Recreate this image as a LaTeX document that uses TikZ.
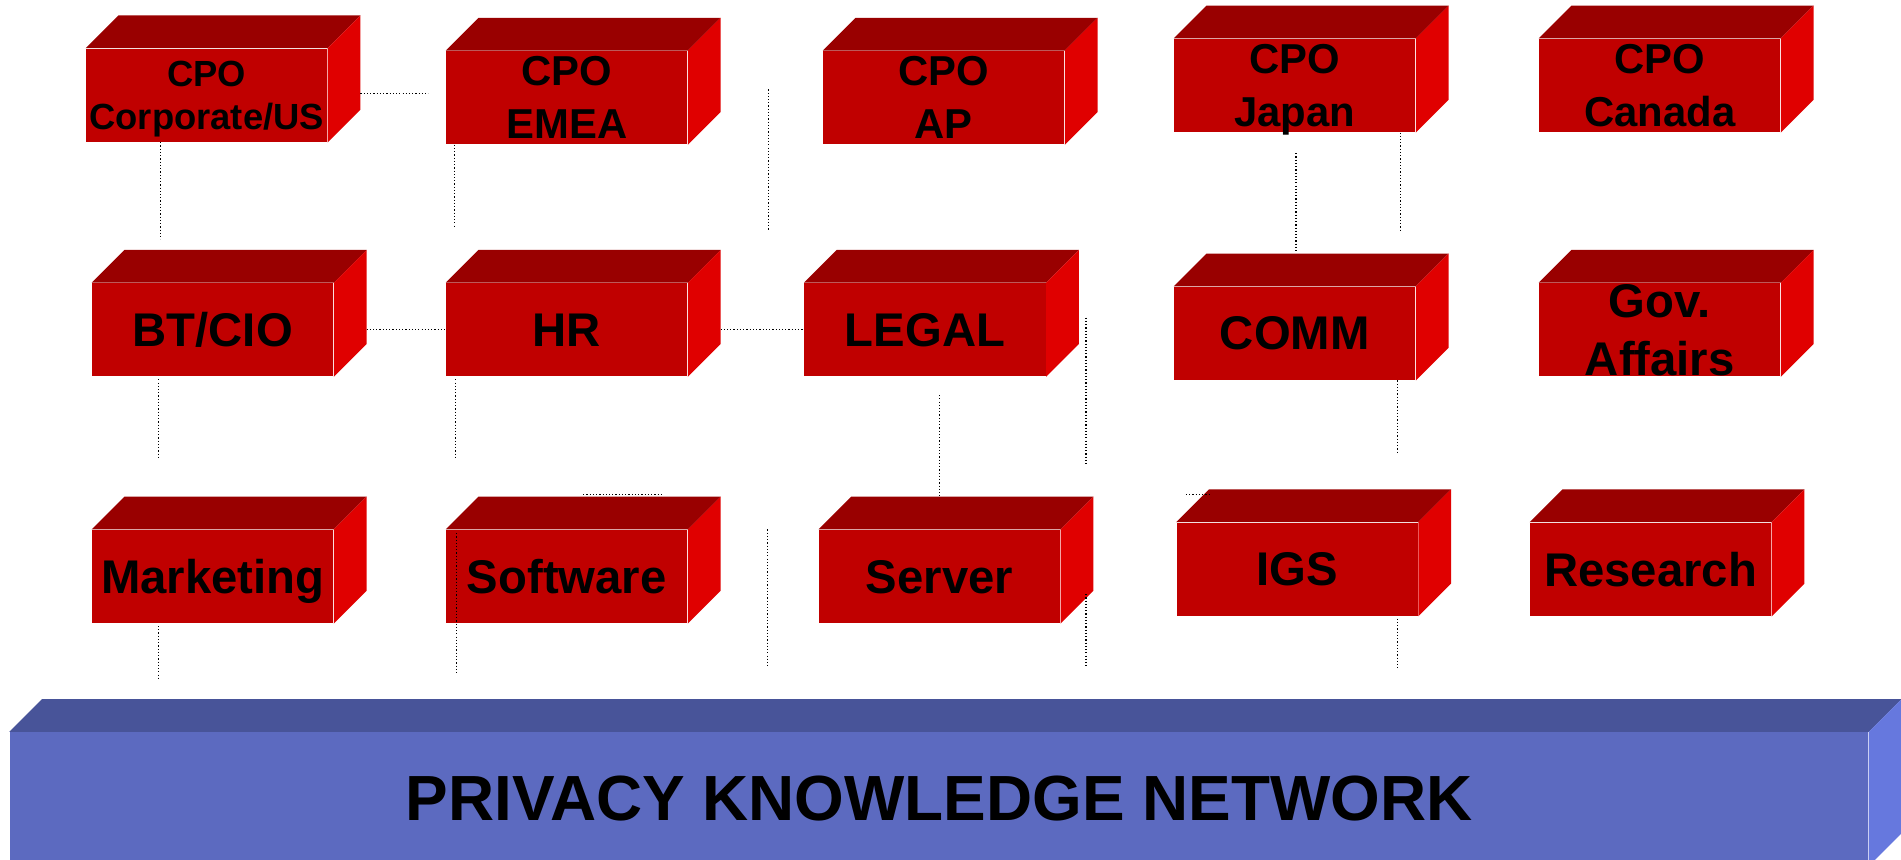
\documentclass[tikz,border=0pt]{standalone}
\usepackage{fontspec}
\setmainfont{Liberation Sans}
\usepackage{xcolor}
\definecolor{boxfront}{RGB}{192,0,0}
\definecolor{boxtop}{RGB}{153,0,0}
\definecolor{boxside}{RGB}{224,0,0}
\definecolor{netfront}{RGB}{92,106,192}
\definecolor{nettop}{RGB}{72,84,153}
\definecolor{netside}{RGB}{102,120,222}
\usepackage{tikz}

% top and right faces of a box drawn behind a front node
\def\depth{16.2pt}
\newcommand{\cubefaces}[3]{%
  \fill[#2] (#1.north west) -- ++(\depth,\depth) -- ([shift={(\depth,\depth)}]#1.north east) -- (#1.north east) -- cycle;
  \fill[#3] (#1.north east) -- ([shift={(\depth,\depth)}]#1.north east) -- ([shift={(\depth,\depth)}]#1.south east) -- (#1.south east) -- cycle;
}

\begin{document}
\begin{tikzpicture}[x=0.6pt, y=-0.6pt,
  dept/.style={fill=boxfront, minimum width=119.4pt, minimum height=46.2pt, inner sep=0pt,
    text depth=0pt, align=center, font=\bfseries\fontsize{23.4pt}{28.8pt}\selectfont},
  cpo/.style={dept, font=\bfseries\fontsize{20.7pt}{26.4pt}\selectfont},
  stub/.style={densely dotted, line width=0.6pt}]
  \useasboundingbox (0,0) rectangle (1568,709);

  % Regional privacy officers
  \node[dept, font=\bfseries\fontsize{18pt}{21.6pt}\selectfont] (corp) at (170.5,78.5) {CPO\\Corporate/US};
  \node[cpo] (emea) at (467.5,80.5) {CPO\\EMEA};
  \node[cpo] (ap) at (778.5,80.5) {CPO\\AP};
  \node[cpo] (japan) at (1068,70.5) {CPO\\Japan};
  \node[cpo] (canada) at (1369,70.5) {CPO\\Canada};

  % Functions
  \node[dept] (btcio) at (175.5,272) {BT/CIO};
  \node[dept] (hr) at (467.5,272) {HR};
  \node[dept] (legal) at (763,272) {LEGAL};
  \node[dept] (comm) at (1068,275) {COMM};
  \node[dept] (gov) at (1369,272) {Gov.\\Affairs};

  % Business units
  \node[dept] (marketing) at (175.5,475.5) {Marketing};
  \node[dept] (software) at (467.5,475.5) {Software};
  \node[dept] (server) at (775,475.5) {Server};
  \node[dept] (igs) at (1070,469.5) {IGS};
  \node[dept] (research) at (1361.5,469.5) {Research};

  \foreach \n in {corp,emea,ap,japan,canada,btcio,hr,legal,comm,gov,marketing,software,server,igs,research}
    {\cubefaces{\n}{boxtop}{boxside}}

  % Network bar
  \node[fill=netfront, minimum width=919.8pt, minimum height=66pt, inner sep=0pt,
    font=\bfseries\fontsize{31.6pt}{38pt}\selectfont] (pkn) at (774.5,659) {PRIVACY KNOWLEDGE NETWORK};
  \cubefaces{pkn}{nettop}{netside}

  % Dotted links
  \draw[stub] ([xshift=\depth]corp.east) ++(0,-1.5) -- ++(56,0);
  \draw[stub] (corp.south west) ++(62,0) -- ++(0,80);
  \draw[stub] (emea.south west) ++(7,0) -- ++(0,69);
  \draw[stub] (ap.north west) ++(-45,32) -- ++(0,116);
  \draw[stub] (japan.south) ++(1,17) -- ++(0,82);
  \draw[stub] (japan.south east) ++(-13,0) -- ++(0,81);
  \draw[stub] ([xshift=\depth]btcio.east) -- (hr.west);
  \draw[stub] ([xshift=\depth]hr.east) -- (legal.west);
  \draw[stub] (btcio.south west) ++(55,2) -- ++(0,65);
  \draw[stub] (hr.south west) ++(8,2) -- ++(0,65);
  \draw[stub] (server.north |- legal.south) ++(0,15) -- ([yshift=\depth]server.north);
  \draw[stub] (legal.east) ++(33,-10) -- ++(0,121);
  \draw[stub] (comm.south east) ++(-15,0) -- ++(0,60);
  \draw[stub] (software.north) ++(13.5,-29) -- ++(65,0);
  \draw[stub] (igs.north west) ++(8,-23) -- ++(21,0);
  \draw[stub] (software.north west) ++(9,3) -- ++(0,117);
  \draw[stub] (marketing.south west) ++(55,2) -- ++(0,45);
  \draw[stub] (server.north west) ++(-42,0) -- ++(0,114);
  \draw[stub] (server.east) ++(21,14.5) -- ++(0,61);
  \draw[stub] (igs.south east) ++(-17,2) -- ++(0,41);
\end{tikzpicture}
\end{document}
